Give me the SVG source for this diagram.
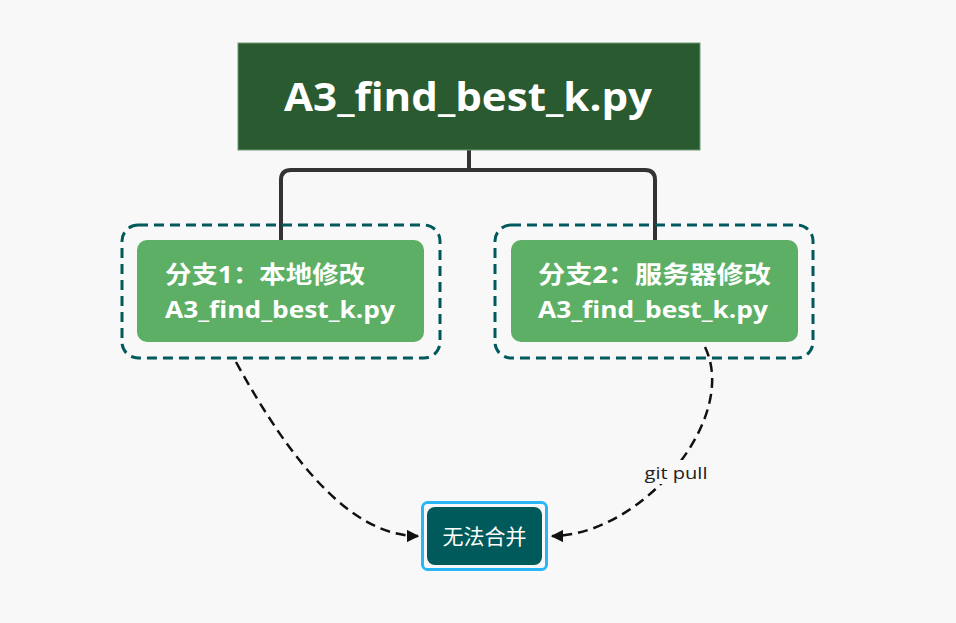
<svg xmlns="http://www.w3.org/2000/svg" width="956" height="623" viewBox="0 0 956 623">
<defs>
<style>
.t{font-family:"Open Sans","Noto Sans","Noto Sans CJK SC",sans-serif;fill:#ffffff;}
.b{font-weight:bold;}
.dash{fill:none;stroke:#00595a;stroke-width:3;stroke-dasharray:10 6;}
.green{fill:#5daf65;}
.tree{fill:none;stroke:#333333;stroke-width:4;}
.edge{fill:none;stroke:#111111;stroke-width:2.5;stroke-dasharray:10 6;}
</style>
<marker id="arr" viewBox="0 0 10 10" refX="9" refY="5" markerWidth="5" markerHeight="5" orient="auto" markerUnits="strokeWidth">
<path d="M0,0 L10,5 L0,10 z" fill="#111111"/>
</marker>
</defs>
<rect width="956" height="623" fill="#f8f8f8"/>
<g id="connectors">
<path class="tree" d="M469,150 V170 M281,241 V180 Q281,170 291,170 H645 Q655,170 655,180 V241"/>
<path class="edge" d="M236,362 C290,460 350,536 418,536" marker-end="url(#arr)"/>
<path class="edge" d="M705,347 C740,420 640,536 552,536" marker-end="url(#arr)"/>
<rect x="642" y="460" width="70" height="24" fill="#f8f8f8"/>
<text x="676" y="479" text-anchor="middle" textLength="63" lengthAdjust="spacingAndGlyphs" style="font-family:'Open Sans','Noto Sans',sans-serif;font-size:17px;fill:#222;">git pull</text>
</g>
<g id="root">
<rect x="238" y="43" width="462" height="107" fill="#2a5a2f" stroke="#6f9a73" stroke-width="1"/>
<text class="t b" x="468" y="111" text-anchor="middle" font-size="40" textLength="368" lengthAdjust="spacingAndGlyphs">A3_find_best_k.py</text>
</g>
<g id="branch1">
<rect class="dash" x="122" y="225" width="318" height="133" rx="16"/>
<rect class="green" x="137" y="240" width="287" height="102" rx="10"/>
<text class="t b" x="165" y="283" font-size="24" textLength="200" lengthAdjust="spacingAndGlyphs">分支1：本地修改</text>
<text class="t b" x="165" y="318" font-size="24" textLength="230" lengthAdjust="spacingAndGlyphs">A3_find_best_k.py</text>
</g>
<g id="branch2">
<rect class="dash" x="495" y="225" width="318" height="133" rx="16"/>
<rect class="green" x="511" y="240" width="287" height="102" rx="10"/>
<text class="t b" x="538" y="283" font-size="24" textLength="233" lengthAdjust="spacingAndGlyphs">分支2：服务器修改</text>
<text class="t b" x="538" y="318" font-size="24" textLength="230" lengthAdjust="spacingAndGlyphs">A3_find_best_k.py</text>
</g>
<g id="merge">
<rect x="422.5" y="502.5" width="124" height="67" rx="5" fill="none" stroke="#29b6f6" stroke-width="3"/>
<rect x="427" y="507" width="115" height="58" rx="8" fill="#00595a"/>
<text class="t" x="484.5" y="544" text-anchor="middle" font-size="21" textLength="84" lengthAdjust="spacingAndGlyphs">无法合并</text>
</g>
</svg>
